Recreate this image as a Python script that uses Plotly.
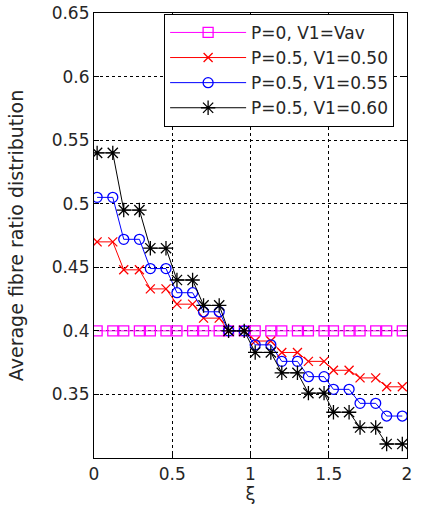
import plotly.graph_objects as go

# x positions (xi) of the data points
xi = [0.02, 0.12, 0.19, 0.29, 0.36, 0.46, 0.53, 0.63, 0.70, 0.80, 0.86, 0.96,
      1.03, 1.13, 1.20, 1.30, 1.37, 1.47, 1.53, 1.63, 1.70, 1.80, 1.87, 1.97]

# step levels (each level held for two points)
lev_p0 = [0.40] * 12
lev_v50 = [0.470, 0.448, 0.433, 0.421, 0.410, 0.400, 0.392, 0.383, 0.376, 0.369, 0.363, 0.356]
lev_v55 = [0.505, 0.472, 0.449, 0.430, 0.415, 0.400, 0.389, 0.376, 0.364, 0.354, 0.343, 0.333]
lev_v60 = [0.540, 0.495, 0.465, 0.440, 0.420, 0.400, 0.383, 0.367, 0.351, 0.336, 0.324, 0.311]

names = ["P=0, V1=Vav", "P=0.5, V1=0.50", "P=0.5, V1=0.55", "P=0.5, V1=0.60"]

x_ticks = [0, 0.5, 1, 1.5, 2]
x_tick_text = ["0", "0.5", "1", "1.5", "2"]
y_ticks = [0.35, 0.4, 0.45, 0.5, 0.55, 0.6, 0.65]
y_tick_text = ["0.35", "0.4", "0.45", "0.5", "0.55", "0.6", "0.65"]


def pairs(levels):
    out = []
    for v in levels:
        out += [v, v]
    return out


styles = [
    dict(color="#ff00ff", symbol="square-open", size=10),
    dict(color="#ff0000", symbol="x-thin-open", size=9),
    dict(color="#0000ff", symbol="circle-open", size=10),
    dict(color="#000000", symbol="asterisk-open", size=12),
]
series = [lev_p0, lev_v50, lev_v55, lev_v60]

fig = go.Figure()
for name, lev, st in zip(names, series, styles):
    fig.add_trace(go.Scatter(
        x=xi, y=pairs(lev), mode="lines+markers", name=name,
        line=dict(color=st["color"], width=1),
        marker=dict(symbol=st["symbol"], size=st["size"], color=st["color"],
                    line=dict(color=st["color"], width=1.3)),
    ))

font = "DejaVu Sans, Arial, sans-serif"
fig.update_layout(
    width=421, height=511,
    margin=dict(l=94, r=14, t=13, b=53, autoexpand=False),
    paper_bgcolor="white", plot_bgcolor="white",
    font=dict(family=font, size=17, color="#262626"),
    showlegend=True,
    legend=dict(x=0.224, y=0.998, xanchor="left", yanchor="top",
                bgcolor="white", bordercolor="black", borderwidth=1,
                font=dict(family=font, size=17, color="#262626"),
                tracegroupgap=0, itemwidth=76),
)
fig.update_xaxes(
    range=[0, 2], tickvals=x_ticks, ticktext=x_tick_text, automargin=False,
    showline=True, linecolor="black", linewidth=1.2, mirror="all",
    ticks="inside", ticklen=5, tickcolor="black",
    showgrid=True, gridcolor="black", gridwidth=1, griddash="3px,3px",
    zeroline=False,
    title=dict(text="ξ", font=dict(family=font, size=18, color="#262626"), standoff=4),
)
fig.update_yaxes(
    range=[0.3, 0.65], tickvals=y_ticks, ticktext=y_tick_text, automargin=False,
    showline=True, linecolor="black", linewidth=1.2, mirror="all",
    ticks="inside", ticklen=5, tickcolor="black",
    showgrid=True, gridcolor="black", gridwidth=1, griddash="3px,3px",
    zeroline=False,
    title=dict(text="Average fibre ratio distribution",
               font=dict(family=font, size=19, color="#262626"), standoff=22),
)

fig.write_html("out.html", config={"displayModeBar": False},
               post_script="document.body.style.margin='0';")
